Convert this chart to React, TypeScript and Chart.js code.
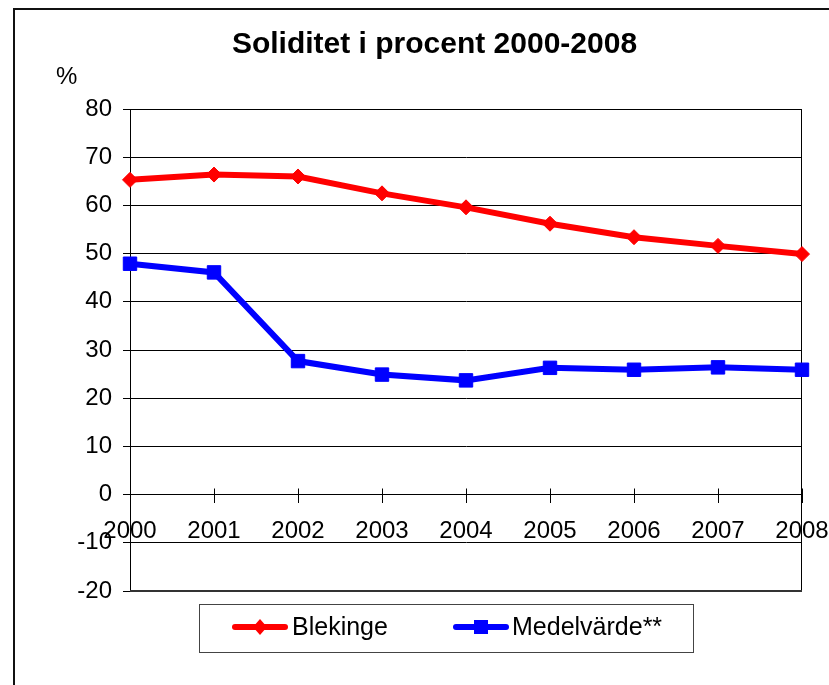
import React, { useEffect, useRef } from "react";
import { Chart, registerables } from "chart.js";

Chart.register(...registerables);

const years = ["2000", "2001", "2002", "2003", "2004", "2005", "2006", "2007", "2008"];
const blekinge = [65.3, 66.4, 66.0, 62.5, 59.6, 56.2, 53.4, 51.6, 49.9];
const medelvarde = [47.9, 46.1, 27.7, 24.9, 23.7, 26.3, 25.9, 26.4, 25.9];
const titleText = "Soliditet i procent 2000-2008";
const yUnit = "%";
const yMin = -20;
const yMax = 80;
const yStep = 10;

const FONT = "'Liberation Sans', Arial, sans-serif";

const decorPlugin = {
  id: "decor",
  beforeDraw(chart: any) {
    const ctx = chart.ctx;
    ctx.save();
    ctx.fillStyle = "#fff";
    ctx.fillRect(0, 0, chart.width, chart.height);
    ctx.strokeStyle = "#111";
    ctx.lineWidth = 2;
    ctx.beginPath();
    ctx.moveTo(14, chart.height);
    ctx.lineTo(14, 9);
    ctx.lineTo(chart.width, 9);
    ctx.stroke();
    ctx.restore();
  },
  beforeDatasetsDraw(chart: any) {
    const ctx = chart.ctx;
    const a = chart.chartArea;
    const xs = chart.scales.x;
    const ys = chart.scales.y;
    ctx.save();
    ctx.strokeStyle = "#000";
    ctx.lineWidth = 1;
    ctx.beginPath();
    ctx.moveTo(Math.round(a.left) + 0.5, a.top);
    ctx.lineTo(Math.round(a.left) + 0.5, a.bottom);
    ctx.moveTo(Math.round(a.right) - 0.5, a.top);
    ctx.lineTo(Math.round(a.right) - 0.5, a.bottom);
    ctx.moveTo(a.left, Math.round(a.top) + 0.5);
    ctx.lineTo(a.right, Math.round(a.top) + 0.5);
    ctx.stroke();
    ctx.strokeStyle = "#333";
    ctx.lineWidth = 2;
    ctx.beginPath();
    ctx.moveTo(a.left, Math.round(a.bottom));
    ctx.lineTo(a.right, Math.round(a.bottom));
    ctx.stroke();
    const y0 = Math.round(ys.getPixelForValue(0)) + 0.5;
    ctx.strokeStyle = "#000";
    ctx.lineWidth = 1;
    ctx.beginPath();
    for (let i = 0; i < years.length; i++) {
      const x = Math.round(xs.getPixelForTick(i)) + 0.5;
      ctx.moveTo(x, y0 - 7);
      ctx.lineTo(x, y0);
    }
    ctx.stroke();
    ctx.restore();
  },
  afterDraw(chart: any) {
    const ctx = chart.ctx;
    ctx.save();
    ctx.fillStyle = "#000";
    ctx.font = `24px ${FONT}`;
    ctx.textBaseline = "middle";
    ctx.textAlign = "left";
    ctx.fillText(yUnit, 56, 77);
    ctx.strokeStyle = "#444";
    ctx.lineWidth = 1;
    ctx.strokeRect(199.5, 604.5, 494, 48);
    const items = [
      { x: 232, tx: 292 },
      { x: 453, tx: 512 },
    ];
    const ly = 627;
    chart.data.datasets.forEach((ds: any, i: number) => {
      const it = items[i];
      ctx.strokeStyle = ds.borderColor;
      ctx.lineWidth = 6;
      ctx.lineCap = "round";
      ctx.beginPath();
      ctx.moveTo(it.x + 3, ly);
      ctx.lineTo(it.x + 53, ly);
      ctx.stroke();
      ctx.fillStyle = ds.borderColor;
      const cx = it.x + 28;
      if (ds.pointStyle === "rectRot") {
        ctx.beginPath();
        ctx.moveTo(cx - 7, ly);
        ctx.lineTo(cx, ly - 8);
        ctx.lineTo(cx + 7, ly);
        ctx.lineTo(cx, ly + 8);
        ctx.closePath();
        ctx.fill();
      } else {
        ctx.fillRect(cx - 7, ly - 7, 14, 14);
      }
      ctx.fillStyle = "#000";
      ctx.font = `25px ${FONT}`;
      ctx.textBaseline = "middle";
      ctx.fillText(ds.label, it.tx, ly + 1);
    });
    ctx.restore();
  },
};

export default function App() {
  const ref = useRef<HTMLCanvasElement | null>(null);
  useEffect(() => {
    if (!ref.current) return;
    const chart = new Chart(ref.current, {
      type: "line",
      data: {
        labels: years,
        datasets: [
          {
            label: "Blekinge",
            data: blekinge,
            borderColor: "#FF0000",
            backgroundColor: "#FF0000",
            borderWidth: 6,
            pointStyle: "rectRot",
            pointRadius: 7.5,
            pointBorderWidth: 1,
            pointBackgroundColor: "#FF0000",
            pointBorderColor: "#FF0000",
            tension: 0,
            clip: false,
          } as any,
          {
            label: "Medelvärde**",
            data: medelvarde,
            borderColor: "#0000FF",
            backgroundColor: "#0000FF",
            borderWidth: 6,
            pointStyle: "rect",
            pointRadius: 9.5,
            pointBorderWidth: 1,
            pointBackgroundColor: "#0000FF",
            pointBorderColor: "#0000FF",
            tension: 0,
            clip: false,
          } as any,
        ],
      },
      options: {
        animation: false,
        responsive: false,
        devicePixelRatio: 1,
        layout: { padding: { top: 10, left: 67, right: 27, bottom: 94 } },
        plugins: {
          legend: { display: false },
          tooltip: { enabled: false },
          title: {
            display: true,
            text: titleText,
            color: "#000",
            font: { family: FONT, size: 30, weight: "bold" },
            padding: { top: 17, bottom: 46 },
          },
        },
        scales: {
          x: {
            type: "category",
            position: { y: 0 } as any,
            offset: false,
            grid: {
              drawOnChartArea: false,
              drawTicks: true,
              tickLength: 8,
              color: "#000",
            },
            border: { display: true, color: "#000", width: 1 },
            ticks: {
              color: "#000",
              font: { family: FONT, size: 24 },
              padding: 14,
              maxRotation: 0,
              autoSkip: false,
            },
            afterFit(scale: any) {
              scale.height = 0;
              scale.paddingLeft = 0;
              scale.paddingRight = 0;
            },
          },
          y: {
            min: yMin,
            max: yMax,
            grid: { color: "#000", lineWidth: 1, tickLength: 7, drawTicks: true },
            border: { display: true, color: "#000", width: 1 },
            ticks: {
              stepSize: yStep,
              color: "#000",
              font: { family: FONT, size: 24 },
              padding: 11,
            },
            afterFit(scale: any) {
              scale.width = 63;
              scale.paddingTop = 0;
              scale.paddingBottom = 0;
            },
          },
        },
      },
      plugins: [decorPlugin],
    });
    return () => chart.destroy();
  }, []);
  return (
    <div style={{ position: "fixed", left: 0, top: 0, width: 829, height: 685, background: "#fff" }}>
      <canvas ref={ref} width={829} height={685} style={{ width: 829, height: 685, display: "block" }} />
    </div>
  );
}
